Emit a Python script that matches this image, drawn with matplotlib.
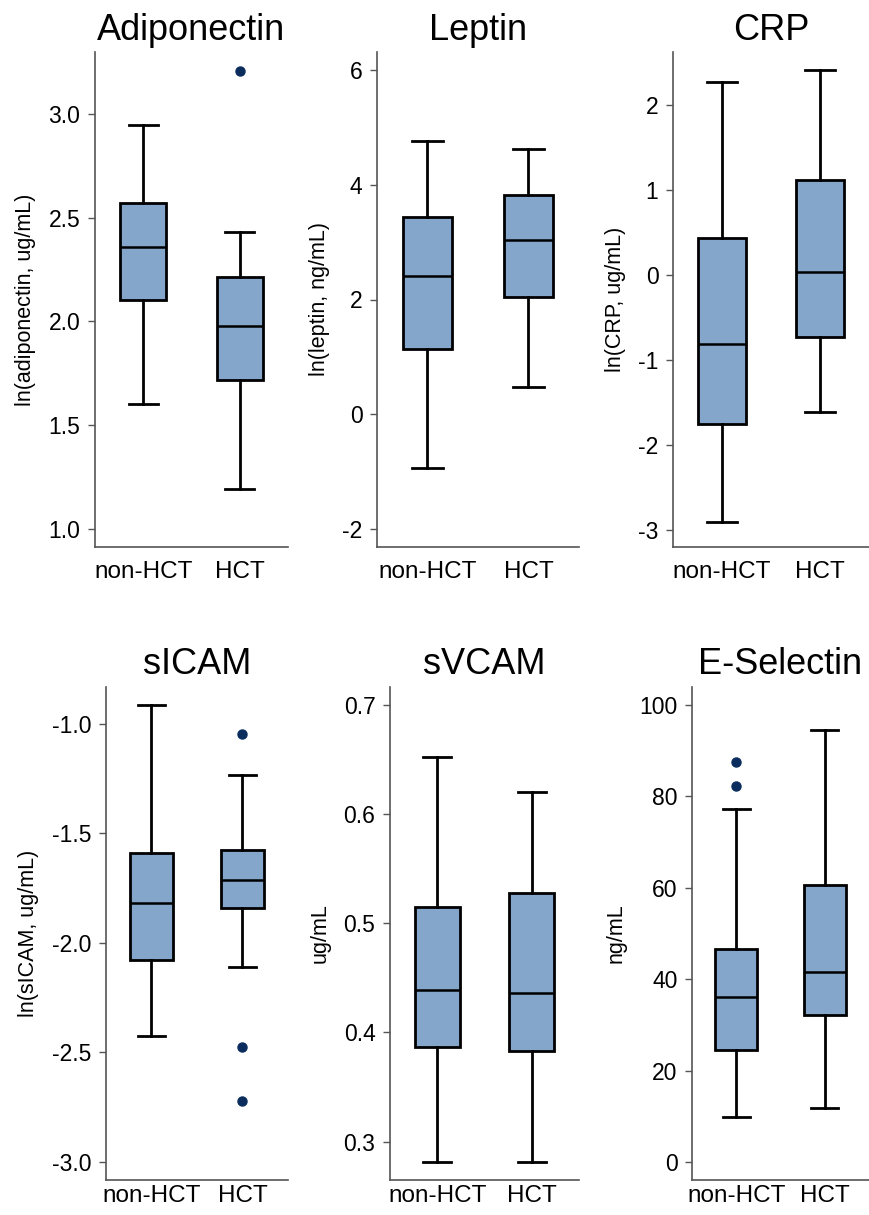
import matplotlib
matplotlib.use("Agg")
import matplotlib.pyplot as plt
import numpy as np

# whislo, q1, median, q3, whishi for [non-HCT, HCT]
groups = ["non-HCT", "HCT"]

adiponectin = [[1.60, 2.105, 2.357, 2.571, 2.949], [1.193, 1.72, 1.978, 2.215, 2.431]]
adiponectin_out = [[], [3.21]]
leptin = [[-0.93, 1.14, 2.417, 3.43, 4.76], [0.47, 2.04, 3.04, 3.816, 4.615]]
leptin_out = [[], []]
crp = [[-2.90, -1.756, -0.81, 0.44, 2.275], [-1.615, -0.73, 0.033, 1.125, 2.41]]
crp_out = [[], []]
sicam = [[-2.424, -2.078, -1.821, -1.59, -0.913], [-2.11, -1.843, -1.712, -1.576, -1.233]]
sicam_out = [[], [-1.047, -2.476, -2.724]]
svcam = [[0.2813, 0.3864, 0.4392, 0.5148, 0.6525], [0.2813, 0.3828, 0.4364, 0.5275, 0.6204]]
svcam_out = [[], []]
eselectin = [[10.0, 24.5, 36.1, 46.6, 77.3], [11.8, 32.2, 41.7, 60.6, 94.5]]
eselectin_out = [[87.4, 82.35], []]

titles = ["Adiponectin", "Leptin", "CRP", "sICAM", "sVCAM", "E-Selectin"]
ylabels = ["ln(adiponectin, ug/mL)", "ln(leptin, ng/mL)", "ln(CRP, ug/mL)",
           "ln(sICAM, ug/mL)", "ug/mL", "ng/mL"]
yticks = [[1.0, 1.5, 2.0, 2.5, 3.0], [-2, 0, 2, 4, 6], [-3, -2, -1, 0, 1, 2],
          [-3.0, -2.5, -2.0, -1.5, -1.0], [0.3, 0.4, 0.5, 0.6, 0.7], [0, 20, 40, 60, 80, 100]]
yfmt = ["%.1f", "%d", "%d", "%.1f", "%.1f", "%d"]
ylims = [(0.912, 3.30), (-2.31, 6.31), (-3.2, 2.626), (-3.083, -0.833), (0.2648, 0.7165), (-3.86, 103.9)]

panels = [(adiponectin, adiponectin_out), (leptin, leptin_out), (crp, crp_out),
          (sicam, sicam_out), (svcam, svcam_out), (eselectin, eselectin_out)]

W, H = 870, 1215
# axes rectangles in pixels: left, top, right, bottom
rects = [(95, 52, 288, 547), (377, 52, 579, 547), (673, 52, 869, 547),
         (106, 687, 288, 1180), (390, 687, 579, 1180), (692, 687, 869, 1180)]

plt.rcParams['font.family'] = ['Liberation Sans', 'DejaVu Sans']

fig = plt.figure(figsize=(W / 100, H / 100), dpi=100)
box_color = "#84a6cb"
out_color = "#0b2d5e"

for i, (stats5, outs) in enumerate(panels):
    l, t, r, b = rects[i]
    ax = fig.add_axes([l / W, 1 - b / H, (r - l) / W, (b - t) / H])
    stats = []
    for g, s, o in zip(groups, stats5, outs):
        stats.append(dict(label=g, whislo=s[0], q1=s[1], med=s[2], q3=s[3], whishi=s[4], fliers=o))
    ax.bxp(stats, positions=[1, 2], widths=0.48, patch_artist=True,
           boxprops=dict(facecolor=box_color, edgecolor="black", linewidth=2),
           medianprops=dict(color="black", linewidth=1.8),
           whiskerprops=dict(color="black", linewidth=2),
           capprops=dict(color="black", linewidth=2),
           capwidths=0.3,
           flierprops=dict(marker="o", markerfacecolor=out_color, markeredgecolor=out_color,
                           markersize=6.5))
    ax.set_xlim(0.5, 2.5)
    ax.set_ylim(*ylims[i])
    ax.set_yticks(yticks[i])
    ax.set_yticklabels([yfmt[i] % v for v in yticks[i]])
    ax.set_title(titles[i], fontsize=26, pad=9)
    ax.set_ylabel(ylabels[i], fontsize=15.5, labelpad=9)
    for sp in ["top", "right"]:
        ax.spines[sp].set_visible(False)
    for sp in ["left", "bottom"]:
        ax.spines[sp].set_color("#555555")
        ax.spines[sp].set_linewidth(1.2)
    ax.tick_params(axis="y", labelsize=16.5, length=5, color="#555555", width=1, pad=5.5)
    # bottom row sits against the figure edge, so its labels get a tighter pad
    ax.tick_params(axis="x", labelsize=17.5, length=0, pad=10 if i < 3 else 3.5)

fig.savefig("out.png", dpi=100)
